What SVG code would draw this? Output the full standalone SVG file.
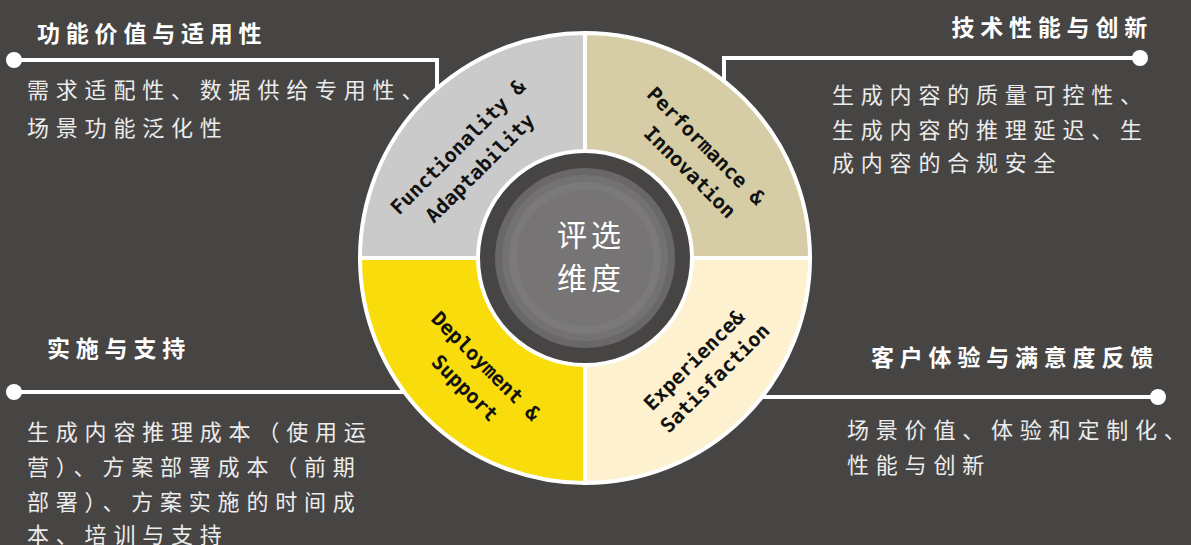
<svg xmlns="http://www.w3.org/2000/svg" width="1191" height="545" viewBox="0 0 1191 545">
<style>
.title{font-family:"Noto Sans CJK SC","Noto Sans",sans-serif;font-size:23px;font-weight:bold;fill:#ffffff;letter-spacing:5.8px}
.body{font-family:"Noto Sans CJK SC","Noto Sans",sans-serif;font-size:22px;fill:#ececec;letter-spacing:6.8px}
.q{font-family:"DejaVu Sans Mono","Liberation Mono",monospace;font-size:20px;font-weight:bold;fill:#111111;text-anchor:middle;dominant-baseline:central}
.conn{stroke:#ffffff;stroke-width:4;fill:none}
.dot{fill:#ffffff}
.sector{stroke:#ffffff;stroke-width:4}
.center{font-family:"Noto Sans CJK SC",sans-serif;font-size:30px;fill:#ffffff;text-anchor:middle;letter-spacing:4px}
</style>
<rect width="1191" height="545" fill="#474544"/>
<g id="connectors">
<polyline class="conn" points="14,60 437,60 437,110"/>
<circle class="dot" cx="14" cy="60" r="8"/>
<polyline class="conn" points="1140,58 724,58 724,100"/>
<circle class="dot" cx="1140" cy="58" r="8"/>
<line class="conn" x1="14" y1="392" x2="420" y2="392"/>
<circle class="dot" cx="14" cy="392" r="8"/>
<line class="conn" x1="740" y1="397" x2="1158" y2="397"/>
<circle class="dot" cx="1158" cy="397" r="8"/>
</g>
<g id="functionality">
<path class="sector" fill="#cacaca" d="M585,258 L360,258 A225,225 0 0 1 585,33 Z"/>
<text class="q" transform="translate(458,147) rotate(-45)">Functionality &amp;</text>
<text class="q" transform="translate(480,168) rotate(-45)">Adaptability</text>
<text class="title" x="37" y="42">功能价值与适用性</text>
<text class="body" x="27" y="98">需求适配性、数据供给专用性、</text>
<text class="body" x="27" y="136">场景功能泛化性</text>
</g>
<g id="performance">
<path class="sector" fill="#d6cda6" d="M585,258 L585,33 A225,225 0 0 1 810,258 Z"/>
<text class="q" transform="translate(706,146) rotate(45)">Performance &amp;</text>
<text class="q" transform="translate(690,172) rotate(45)">Innovation</text>
<text class="title" x="1153" y="36" text-anchor="end">技术性能与创新</text>
<text class="body" x="832" y="103">生成内容的质量可控性、</text>
<text class="body" x="832" y="138">生成内容的推理延迟、生</text>
<text class="body" x="832" y="171">成内容的合规安全</text>
</g>
<g id="deployment">
<path class="sector" fill="#f8dc0b" d="M585,258 L585,483 A225,225 0 0 1 360,258 Z"/>
<text class="q" transform="translate(486,366) rotate(45)">Deployment &amp;</text>
<text class="q" transform="translate(465,388) rotate(45)">Support</text>
<text class="title" x="47" y="357">实施与支持</text>
<text class="body" x="27" y="440">生成内容推理成本（使用运</text>
<text class="body" x="27" y="475">营）、方案部署成本（前期</text>
<text class="body" x="27" y="510">部署）、方案实施的时间成</text>
<text class="body" x="27" y="543">本、培训与支持</text>
</g>
<g id="experience">
<path class="sector" fill="#fef1d0" d="M585,258 L810,258 A225,225 0 0 1 585,483 Z"/>
<text class="q" transform="translate(694,360) rotate(-45)">Experience&amp;</text>
<text class="q" transform="translate(715,378) rotate(-45)">Satisfaction</text>
<text class="title" x="1159" y="366" text-anchor="end">客户体验与满意度反馈</text>
<text class="body" x="847" y="438">场景价值、体验和定制化、</text>
<text class="body" x="847" y="473">性能与创新</text>
</g>
<g id="center">
<circle cx="585" cy="258" r="107" fill="#474544" stroke="#ffffff" stroke-width="4"/>
<circle cx="585" cy="258" r="90" fill="#696767"/>
<circle cx="585" cy="258" r="83" fill="#737171"/>
<circle cx="585" cy="258" r="76" fill="#7b7979"/>
<circle cx="585" cy="258" r="68" fill="#767474"/>
<text class="center" x="591" y="246">评选</text>
<text class="center" x="591" y="289">维度</text>
</g>
</svg>
